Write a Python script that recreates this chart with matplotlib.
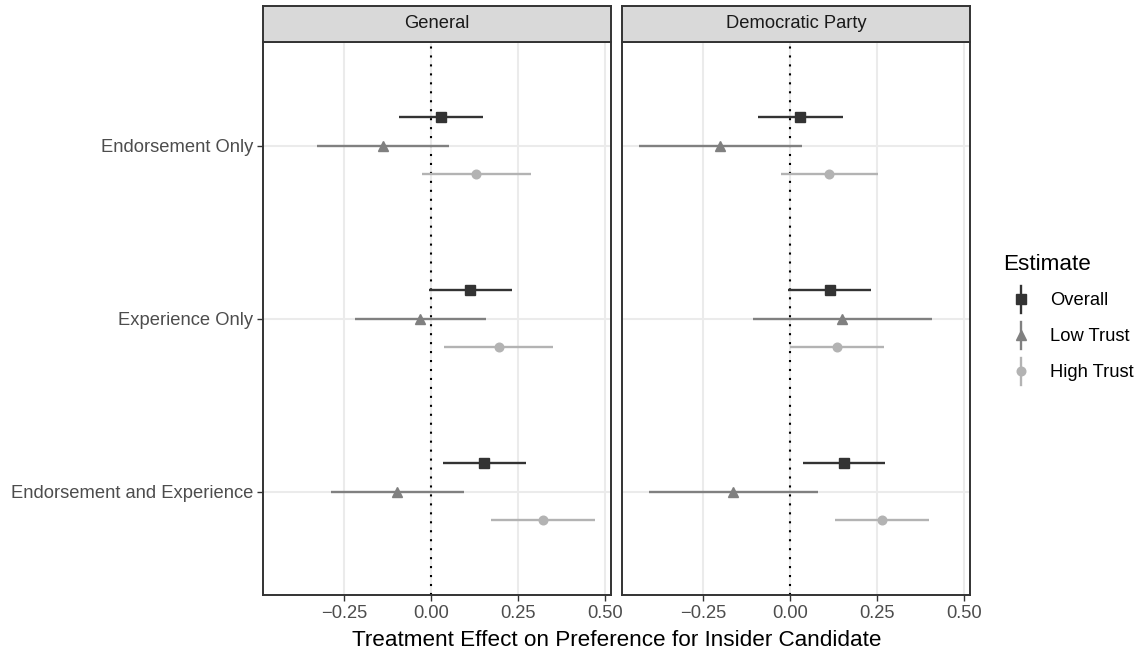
import numpy as np
import matplotlib
matplotlib.use("Agg")
import matplotlib.pyplot as plt
from matplotlib.lines import Line2D
from matplotlib.legend_handler import HandlerBase

plt.rcParams['font.family'] = ['Liberation Sans', 'DejaVu Sans']

categories = ["Endorsement Only", "Experience Only", "Endorsement and Experience"]
panels = ["General", "Democratic Party"]
estimates = ["Overall", "Low Trust", "High Trust"]

# General panel: point estimate, lower and upper bound per category
gen_overall = [0.030, 0.114, 0.154]
gen_overall_lo = [-0.090, -0.005, 0.036]
gen_overall_hi = [0.150, 0.235, 0.275]
gen_low = [-0.137, -0.030, -0.096]
gen_low_lo = [-0.326, -0.218, -0.286]
gen_low_hi = [0.052, 0.158, 0.095]
gen_high = [0.131, 0.195, 0.322]
gen_high_lo = [-0.025, 0.039, 0.174]
gen_high_hi = [0.288, 0.352, 0.472]

# Democratic Party panel
dem_overall = [0.029, 0.115, 0.156]
dem_overall_lo = [-0.090, -0.006, 0.037]
dem_overall_hi = [0.152, 0.235, 0.275]
dem_low = [-0.201, 0.150, -0.162]
dem_low_lo = [-0.435, -0.107, -0.404]
dem_low_hi = [0.035, 0.408, 0.080]
dem_high = [0.114, 0.136, 0.265]
dem_high_lo = [-0.026, 0.002, 0.129]
dem_high_hi = [0.255, 0.272, 0.400]

x_ticks = [-0.25, 0.0, 0.25, 0.50]
x_ticklabels = ["\u22120.25", "0.00", "0.25", "0.50"]

colors = ["#333333", "#808080", "#b3b3b3"]
markers = ["s", "^", "o"]
msizes = [6.8, 7.2, 6.2]
offsets = [0.167, 0.0, -0.167]

panel_data = [
    [(gen_overall, gen_overall_lo, gen_overall_hi),
     (gen_low, gen_low_lo, gen_low_hi),
     (gen_high, gen_high_lo, gen_high_hi)],
    [(dem_overall, dem_overall_lo, dem_overall_hi),
     (dem_low, dem_low_lo, dem_low_hi),
     (dem_high, dem_high_lo, dem_high_hi)],
]


class VerticalKey(HandlerBase):
    # pointrange style key: vertical bar with marker on top
    def create_artists(self, legend, orig_handle, xdescent, ydescent,
                       width, height, fontsize, trans):
        cx = width / 2 - xdescent
        cy = height / 2 - ydescent
        bar = Line2D([cx, cx], [cy - height * 0.6, cy + height * 0.6],
                     color=orig_handle.get_color(),
                     lw=orig_handle.get_linewidth(), transform=trans)
        dot = Line2D([cx], [cy], marker=orig_handle.get_marker(),
                     markersize=orig_handle.get_markersize(),
                     color=orig_handle.get_color(), linestyle="none",
                     transform=trans)
        return [bar, dot]


W, H = 1140, 654
fig = plt.figure(figsize=(W / 100, H / 100), dpi=100)

panel_left = [263.3, 622.3]
panel_w = 347.7
top_px, bot_px = 41.7, 595.3
strip_top = 6.0

small = 13.2
big = 16.2

ypos = np.array([3, 2, 1])
tick_col = "#4d4d4d"
border_col = "#333333"

handles = []
for p, name in enumerate(panels):
    ax = fig.add_axes([panel_left[p] / W, 1 - bot_px / H, panel_w / W, (bot_px - top_px) / H])
    ax.set_xlim(-0.4816, 0.5184)
    ax.set_ylim(0.4, 3.6)
    ax.set_xticks(x_ticks)
    ax.set_xticklabels(x_ticklabels)
    ax.set_yticks(ypos)
    if p == 0:
        ax.set_yticklabels(categories)
        ax.tick_params(axis="y", length=4, width=1.0, color=border_col, pad=3.2,
                       labelsize=small, labelcolor=tick_col)
    else:
        ax.set_yticklabels([])
        ax.tick_params(axis="y", length=0)
    ax.tick_params(axis="x", length=4, width=1.0, color=border_col, pad=3.0,
                   labelsize=small, labelcolor=tick_col)
    ax.grid(True, color="#ebebeb", lw=1.5, zorder=0)
    ax.set_axisbelow(True)
    for sp in ax.spines.values():
        sp.set_color(border_col)
        sp.set_linewidth(1.4)
        sp.set_zorder(5)

    ax.axvline(0, color="black", lw=1.5, linestyle=(0, (1, 3.3)), zorder=1.5)

    for k, (est, lo, hi) in enumerate(panel_data[p]):
        yy = ypos + offsets[k]
        ax.hlines(yy, lo, hi, color=colors[k], lw=1.7, zorder=3)
        ln, = ax.plot(est, yy, linestyle="none", marker=markers[k],
                      markersize=msizes[k], color=colors[k], zorder=4)
        if p == 0:
            ln.set_linewidth(1.7)
            handles.append(ln)

    # facet strip
    sax = fig.add_axes([panel_left[p] / W, 1 - top_px / H, panel_w / W, (top_px - strip_top) / H])
    sax.set_facecolor("#d9d9d9")
    sax.set_xticks([])
    sax.set_yticks([])
    for sp in sax.spines.values():
        sp.set_color(border_col)
        sp.set_linewidth(1.4)
    sax.text(0.5, 0.5, name, ha="center", va="center", fontsize=small,
             color="#1a1a1a", transform=sax.transAxes)

fig.text((panel_left[0] + panel_left[1] + panel_w) / 2 / W, 1 - 646 / H,
         "Treatment Effect on Preference for Insider Candidate",
         ha="center", va="baseline", fontsize=big, color="black")

leg = fig.legend(handles, estimates, handler_map={Line2D: VerticalKey()},
                 loc="center left", bbox_to_anchor=(993 / W, 1 - 318 / H),
                 frameon=False, fontsize=small, title="Estimate",
                 title_fontsize=big, handlelength=1.95, handleheight=1.5,
                 handletextpad=0.6, labelspacing=0.74, borderpad=0.56,
                 borderaxespad=0, alignment="left")

fig.savefig("out.png", dpi=100)
